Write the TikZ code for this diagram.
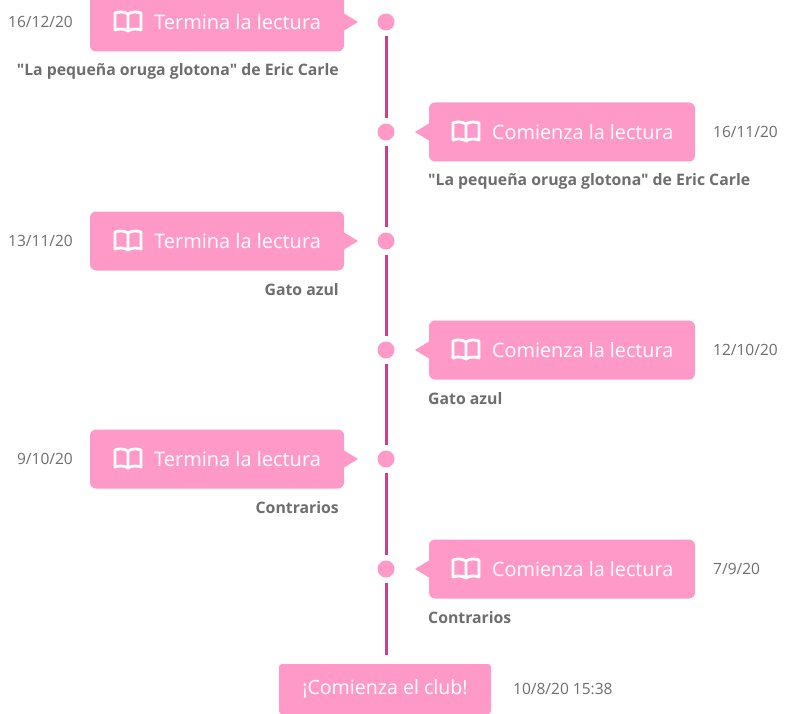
\documentclass[tikz,border=0pt]{standalone}
\usepackage{fontspec}
\newfontfamily\osans{Open Sans}
\definecolor{pinkbox}{HTML}{FF99C8}
\definecolor{spine}{HTML}{C8408F}
\definecolor{greytext}{HTML}{6E6E6E}
\tikzset{
  x=1pt,y=-1pt,
  bubble/.style={fill=pinkbox,rounded corners=6pt,inner sep=0pt,minimum height=59pt},
  bubbleL/.style={bubble,minimum width=254pt},
  bubbleR/.style={bubble,minimum width=266pt},
  startbox/.style={fill=pinkbox,rounded corners=3pt,inner sep=0pt,minimum width=212pt,minimum height=50pt,text=white,font=\osans\fontsize{19.6}{22}\selectfont},
  label/.style={text=white,font=\osans\fontsize{20}{24}\selectfont,inner sep=0pt,anchor=west},
  labelR/.style={label,font=\osans\fontsize{19.8}{24}\selectfont},
  dot/.style={circle,fill=pinkbox,minimum size=17pt,inner sep=0pt},
  datetxt/.style={text=greytext,font=\osans\fontsize{15.5}{18}\selectfont,inner sep=0pt},
  titletxt/.style={text=greytext,font=\osans\fontsize{15.8}{18}\selectfont\bfseries,inner sep=0pt},
  spineline/.style={draw=spine,line width=3pt},
  bookicon/.style={draw=white,line width=2.8pt,line join=round}
}
\newcommand{\bookat}[2]{%
  \draw[bookicon,shift={(#1,#2)}] (0,-8) .. controls (-4,-10.5) and (-9,-10.5) .. (-13,-9) -- (-13,8) .. controls (-9,6.5) and (-4,6.5) .. (0,9) .. controls (4,6.5) and (9,6.5) .. (13,8) -- (13,-9) .. controls (9,-10.5) and (4,-10.5) .. (0,-8) -- (0,9);}
\newcommand{\rowL}[4]{%
  \node[dot] (d#1) at (386,#2) {};
  \fill[pinkbox] (340,#2-11) -- (358,#2) -- (340,#2+11) -- cycle;
  \node[bubbleL] (b#1) at (217,#2) {};
  \bookat{128}{#2}
  \node[label] (t#1) at (154,#2) {Termina la lectura};
  \node[datetxt,anchor=east] (w#1) at (73,#2) {#3};
  \node[titletxt,anchor=east] (n#1) at (339,#2+49) {#4};}
\newcommand{\rowR}[4]{%
  \node[dot] (d#1) at (386,#2) {};
  \fill[pinkbox] (433,#2-11) -- (415,#2) -- (433,#2+11) -- cycle;
  \node[bubbleR] (b#1) at (562,#2) {};
  \bookat{466}{#2}
  \node[labelR] (t#1) at (492,#2) {Comienza la lectura};
  \node[datetxt,anchor=west] (w#1) at (713,#2) {#3};
  \node[titletxt,anchor=west] (n#1) at (428,#2+49) {#4};}
\begin{document}
\begin{tikzpicture}
\clip (0,0) rectangle (789,714);
\useasboundingbox (0,0) rectangle (789,714);
\fill[white] (0,0) rectangle (789,714);
\rowL{a}{22}{16/12/20}{"La pequeña oruga glotona" de Eric Carle}
\rowR{b}{132}{16/11/20}{"La pequeña oruga glotona" de Eric Carle}
\rowL{c}{241}{13/11/20}{Gato azul}
\rowR{d}{350}{12/10/20}{Gato azul}
\rowL{e}{459}{9/10/20}{Contrarios}
\rowR{f}{569}{7/9/20}{Contrarios}
\node[startbox] (start) at (385,689) {¡Comienza el club!};
\node[datetxt,anchor=west] (startdate) at (513,689) {10/8/20 15:38};
\foreach \p/\q in {a/b,b/c,c/d,d/e,e/f}
  \draw[spineline,shorten <=5.5pt,shorten >=5.5pt] (d\p) -- (d\q);
\draw[spineline,shorten <=5.5pt,shorten >=9pt] (df) -- (df |- start.north);
\end{tikzpicture}
\end{document}
